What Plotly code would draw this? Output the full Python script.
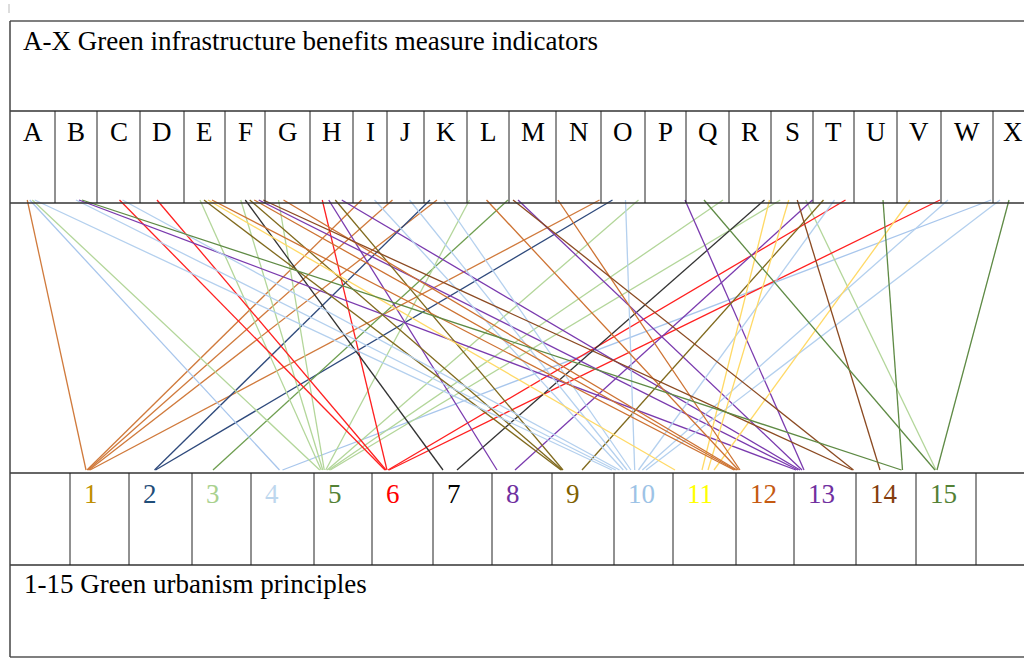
import plotly.graph_objects as go

# ---------------- data ----------------
LETTERS = list("ABCDEFGHIJKLMNOPQRSTUVWX")
NUMBERS = list(range(1, 16))
TITLE_TOP = "A-X Green infrastructure benefits measure indicators"
TITLE_BOTTOM = "1-15 Green urbanism principles"

# indicator letters linked to each principle number
LINKS_1 = ["A", "I", "J", "K", "O"]
LINKS_2 = ["K", "O"]
LINKS_3 = ["M"]
LINKS_4 = ["A", "X"]
LINKS_5 = ["A", "E", "F", "G", "L", "O", "Q", "S"]
LINKS_6 = ["C", "D", "H", "T", "W"]
LINKS_7 = ["F", "R"]
LINKS_8 = ["H", "T"]
LINKS_9 = ["E", "F", "H", "T"]
LINKS_10 = ["A", "B", "C", "I", "J", "K", "O", "T", "W", "X"]
LINKS_11 = ["E", "R", "S", "V"]
LINKS_12 = ["E", "F", "G", "L", "N"]
LINKS_13 = ["B", "F", "H", "M", "Q"]
LINKS_14 = ["F", "M", "S"]
LINKS_15 = ["B", "Q", "S", "U", "X"]

LINKS = {1: LINKS_1, 2: LINKS_2, 3: LINKS_3, 4: LINKS_4, 5: LINKS_5,
         6: LINKS_6, 7: LINKS_7, 8: LINKS_8, 9: LINKS_9, 10: LINKS_10,
         11: LINKS_11, 12: LINKS_12, 13: LINKS_13, 14: LINKS_14, 15: LINKS_15}

# ---------------- layout / style ----------------
W, H = 1024, 668
LEFT, RIGHT = 10, 1045
ROW_Y = [21, 111, 203, 473, 565, 657]
LETTER_DIV = [10, 55, 97, 140, 184, 225, 265, 310, 353, 387, 424, 467, 509, 556,
              601, 645, 686, 729, 771, 813, 854, 897, 941, 993, 1045]
NUMBER_DIV = [10, 70, 129, 192, 251, 314, 372, 433, 492, 552, 614, 673, 736, 794,
              856, 916, 976, 1045]

NUM_COLOR = {1: "#BF8F00", 2: "#1F4E79", 3: "#A9D18E", 4: "#BDD7EE", 5: "#538135",
             6: "#FF0000", 7: "#000000", 8: "#7030A0", 9: "#7F6000", 10: "#9DC3E6",
             11: "#FFFF00", 12: "#C55A11", 13: "#7030A0", 14: "#843C0C", 15: "#538135"}
LINE_COLOR = {1: "#D07A3C", 2: "#2F4A7C", 3: "#6E9E50", 4: "#A8C6EC", 5: "#B3D69A",
              6: "#FF2020", 7: "#333333", 8: "#7A3AAE", 9: "#806A1E", 10: "#B4D0EE",
              11: "#FFD966", 12: "#CD7232", 13: "#7A3AAE", 14: "#8B4A22", 15: "#5E8A44"}
LINE_COLOR_OVERRIDE = {("S", 15): "#B3D69A"}

# where bundles leave the letter cells (px) and how they fan out
LETTER_ANCHOR = {"A": 31, "B": 79, "C": 121, "D": 157, "E": 206, "F": 252, "G": 281,
                 "H": 332, "I": 368, "J": 401, "K": 437, "L": 478, "M": 513, "N": 558,
                 "O": 619, "P": 665, "Q": 704, "R": 767, "S": 793, "T": 829, "U": 883,
                 "V": 910, "W": 944, "X": 1000}
LETTER_SPREAD = {"A": 2.5, "B": 3, "C": 3, "E": 4, "F": 4.5, "G": 5, "H": 6.5,
                 "I": 13, "J": 17, "K": 7, "L": 17, "M": 5, "O": 13, "Q": 19, "R": 5,
                 "S": 8.5, "T": 11, "W": 8, "X": 9}
LETTER_ORDER = {"T": [8, 9, 10, 6], "O": [1, 2, 10, 5], "K": [2, 1, 10],
                "M": [3, 14, 13], "Q": [13, 15, 5]}

# where bundles arrive in the number cells (px)
NUM_PORTS = {1: [88], 2: [155], 3: [213], 4: [281], 5: [325], 6: [387],
             7: [443, 457], 8: [497, 515], 9: [562, 582], 10: [629],
             11: [675, 708], 12: [737], 13: [800], 14: [853, 880], 15: [902, 936]}
PORT_OF = {("R", 7): 1, ("T", 8): 1, ("T", 9): 1, ("R", 11): 1, ("S", 11): 1,
           ("V", 11): 1, ("S", 14): 1, ("Q", 15): 1, ("S", 15): 1, ("X", 15): 1}
NUM_SPREAD = {4: 3, 5: 1.5, 10: 3.8, 11: 6, 12: 1.5, 13: 2}
Y_START, Y_END = 200, 470

FONT = "Liberation Serif, Times New Roman, serif"
FS = 27

# ---------------- geometry ----------------
pairs = [(l, n) for n in NUMBERS for l in LINKS[n]]

start_x = {}
by_letter = {}
for l, n in pairs:
    by_letter.setdefault(l, []).append(n)
for l, ns in by_letter.items():
    order = LETTER_ORDER.get(l, sorted(ns))
    sp = LETTER_SPREAD.get(l, 5)
    k = len(order)
    for i, n in enumerate(order):
        start_x[(l, n)] = LETTER_ANCHOR[l] + (i - (k - 1) / 2) * sp

end_x = {}
groups = {}
for l, n in pairs:
    p = PORT_OF.get((l, n), 0)
    groups.setdefault((n, p), []).append(l)
for (n, p), ls in groups.items():
    ls = sorted(ls, key=lambda q: start_x[(q, n)])
    sp = NUM_SPREAD.get(n, 1)
    k = len(ls)
    for i, l in enumerate(ls):
        end_x[(l, n)] = NUM_PORTS[n][p] + (i - (k - 1) / 2) * sp

fig = go.Figure()

# links grouped by colour
by_color = {}
for l, n in pairs:
    c = LINE_COLOR_OVERRIDE.get((l, n), LINE_COLOR[n])
    xs, ys = by_color.setdefault(c, ([], []))
    xs += [start_x[(l, n)], end_x[(l, n)], None]
    ys += [Y_START, Y_END, None]
for c, (xs, ys) in by_color.items():
    fig.add_trace(go.Scatter(x=xs, y=ys, mode="lines",
                             line=dict(color=c, width=1.3),
                             hoverinfo="skip", showlegend=False))

shapes = []
def seg(x0, y0, x1, y1, color="#222222", width=1.2):
    shapes.append(dict(type="line", xref="x", yref="y", x0=x0, y0=y0, x1=x1, y1=y1,
                       line=dict(color=color, width=width), layer="above"))

for i, y in enumerate(ROW_Y):
    outer = i in (0, len(ROW_Y) - 1)
    seg(LEFT, y, RIGHT, y, "#555555" if outer else "#333333", 1.6 if outer else 1.3)
seg(LEFT, ROW_Y[0], LEFT, ROW_Y[-1], "#444444", 1.5)
for x in LETTER_DIV[1:-1]:
    seg(x, ROW_Y[1], x, ROW_Y[2], "#222222", 1)
for x in NUMBER_DIV[1:-1]:
    seg(x, ROW_Y[3], x, ROW_Y[4], "#222222", 1)
seg(9, 4, 9, 13, "#BBBBBB", 1)

ann = []
ann.append(dict(text=TITLE_TOP, x=21, y=41, xanchor="left", yanchor="middle",
                showarrow=False, font=dict(family=FONT, size=FS, color="#000000")))
ann.append(dict(text=TITLE_BOTTOM, x=22, y=584, xanchor="left", yanchor="middle",
                showarrow=False, font=dict(family=FONT, size=FS, color="#000000")))
for i, lab in enumerate(LETTERS):
    cx = (LETTER_DIV[i] + LETTER_DIV[i + 1]) / 2
    if lab == "X":
        cx = 1013
    ann.append(dict(text=lab, x=cx, y=132, xanchor="center", yanchor="middle",
                    showarrow=False, font=dict(family=FONT, size=FS, color="#000000")))
for i, n in enumerate(NUMBERS):
    x0 = NUMBER_DIV[i + 1]
    ann.append(dict(text=str(n), x=x0 + 12, y=494, xanchor="left", yanchor="middle",
                    showarrow=False, font=dict(family=FONT, size=FS, color=NUM_COLOR[n])))

fig.update_layout(
    width=W, height=H, margin=dict(l=0, r=0, t=0, b=0),
    paper_bgcolor="white", plot_bgcolor="white",
    xaxis=dict(range=[0, W], visible=False, fixedrange=True),
    yaxis=dict(range=[H, 0], visible=False, fixedrange=True),
    shapes=shapes, annotations=ann,
)

fig.write_html("out.html", config={"displayModeBar": False},
               post_script="document.body.style.margin='0';document.body.style.overflow='hidden';")
